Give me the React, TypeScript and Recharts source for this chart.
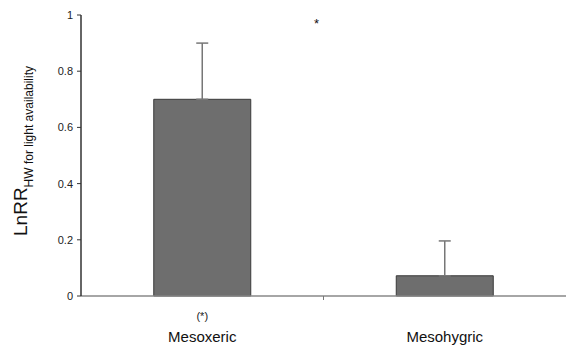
import { BarChart, Bar, XAxis, YAxis, ErrorBar, Label } from 'recharts';

const categories = ['Mesoxeric', 'Mesohygric'];
const lnrr = [0.7, 0.072];
const upperError = [0.2, 0.124];
const marks = ['(*)', ''];
const yTicks = [0, 0.2, 0.4, 0.6, 0.8, 1];

const data = categories.map((name, i) => ({
  name,
  value: lnrr[i],
  err: [0, upperError[i]],
  mark: marks[i],
}));

const W = 566;
const H = 349;
const LEFT = 81;
const HALF_BAND = (W - LEFT) / categories.length / 2;
const FONT = '"Liberation Sans", Arial, sans-serif';

function CategoryTick(props: any) {
  const { x, y, payload, index } = props;
  return (
    <g>
      {index === 0 && (
        <line x1={x + HALF_BAND} x2={x + HALF_BAND} y1={y} y2={y + 4} stroke="#777" />
      )}
      {marks[index] && (
        <text x={x} y={y + 24} textAnchor="middle" fontSize={11} fill="#222" fontFamily={FONT}>
          {marks[index]}
        </text>
      )}
      <text x={x} y={y + 46} textAnchor="middle" fontSize={15} fill="#111" fontFamily={FONT}>
        {payload.value}
      </text>
    </g>
  );
}

function YLabel() {
  return (
    <text
      transform="translate(27, 151) rotate(-90)"
      textAnchor="middle"
      fontFamily={FONT}
      fill="#111"
    >
      <tspan fontSize={19}>LnRR</tspan>
      <tspan fontSize={12} dy={6}>HW for light availability</tspan>
    </text>
  );
}

export default function App() {
  return (
    <div style={{ position: 'absolute', left: 0, top: 0, width: W, height: H, background: '#fff' }}>
      <BarChart
        width={W}
        height={H}
        data={data}
        margin={{ top: 15, right: 0, bottom: 23, left: 31 }}
        barCategoryGap="30%"
      >
        <XAxis
          dataKey="name"
          height={30}
          tickLine={false}
          tickSize={0}
          tickMargin={0}
          axisLine={{ stroke: '#888', strokeWidth: 1.5 }}
          tick={<CategoryTick />}
          interval={0}
        />
        <YAxis
          width={50}
          domain={[0, 1]}
          ticks={yTicks}
          interval={0}
          tickSize={4}
          tickMargin={4}
          axisLine={{ stroke: '#333', strokeWidth: 1.5 }}
          tickLine={{ stroke: '#333' }}
          tick={{ fontSize: 11, fill: '#222', fontFamily: FONT }}
        >
          <Label content={<YLabel />} />
        </YAxis>
        <Bar dataKey="value" fill="#6e6e6e" stroke="#3a3a3a" strokeWidth={1} isAnimationActive={false}>
          <ErrorBar dataKey="err" width={6} stroke="#777" strokeWidth={1.5} direction="y" />
        </Bar>
      </BarChart>
      <span
        style={{
          position: 'absolute',
          left: 314,
          top: 16,
          fontSize: 13,
          fontFamily: FONT,
          color: '#111',
        }}
      >
        *
      </span>
    </div>
  );
}
